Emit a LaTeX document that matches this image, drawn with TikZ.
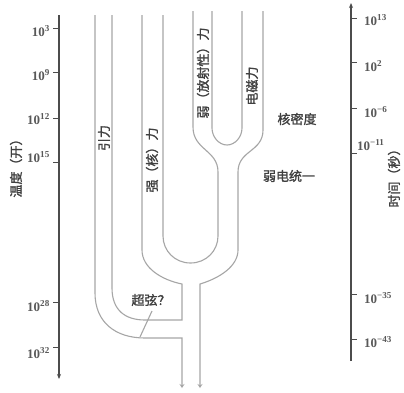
\documentclass[tikz,border=0pt]{standalone}
\usepackage{fontspec}
\setmainfont{Liberation Serif}
\newfontfamily\cjk[FakeBold=1.5]{Noto Sans CJK SC}
\usetikzlibrary{arrows.meta}
\begin{document}
\begin{tikzpicture}[x=1pt,y=-1pt,
  tube/.style={draw=black!35,line width=1.1pt},
  axisline/.style={draw=black!70,line width=1.2pt},
  tubearrow/.style={-{Stealth[length=4pt,width=5pt]}},
  cn/.style={font=\cjk\fontsize{13}{13}\selectfont,text=black!75,inner sep=0pt},
  vcn/.style={cn,rotate=90},
  numl/.style={font=\rmfamily\bfseries\fontsize{13}{13}\selectfont,text=black!65,inner sep=0pt,anchor=east},
  numr/.style={font=\rmfamily\bfseries\fontsize{13}{13}\selectfont,text=black!65,inner sep=0pt,anchor=west}]
\useasboundingbox (0,0) rectangle (404,392);
\fill[white] (0,0) rectangle (404,392);

% axes
\draw[axisline,-{Stealth[length=5pt,width=4pt]}] (59,15) -- (59,379);
\draw[axisline,-{Stealth[length=5pt,width=4pt]}] (351,361) -- (351,3);
\foreach \y in {28,72,118,162,302,347} \draw[axisline,line width=1pt] (53,\y) -- (59,\y);
\foreach \y in {18,62,108,153,294,339} \draw[axisline,line width=1pt] (351,\y) -- (357,\y);

% left labels
\node[numl] (t1) at (50,31) {10\textsuperscript{3}};
\node[numl] (t2) at (50,75) {10\textsuperscript{9}};
\node[numl] (t3) at (50,119) {10\textsuperscript{12}};
\node[numl] (t4) at (50,157) {10\textsuperscript{15}};
\node[numl] (t5) at (50,306) {10\textsuperscript{28}};
\node[numl] (t6) at (50,353) {10\textsuperscript{32}};
% right labels
\node[numr] (s1) at (364,20) {10\textsuperscript{13}};
\node[numr] (s2) at (364,66) {10\textsuperscript{2}};
\node[numr] (s3) at (364,112) {10\textsuperscript{−6}};
\node[numr] (s4) at (357,145) {10\textsuperscript{−11}};
\node[numr] (s5) at (364,298) {10\textsuperscript{−35}};
\node[numr] (s6) at (364,342) {10\textsuperscript{−43}};

\node[vcn] (temp) at (16,165) {温度（开）};
\node[vcn] (time) at (394,175) {时间（秒）};

% tubes
\draw[tube,tubearrow] (95,15) -- (95,293) .. controls (95,322) and (115,338) .. (145,338) -- (182,338) -- (182,388);
\draw[tube] (112,15) -- (112,288) .. controls (112,310) and (125,320) .. (145,320) -- (182,320) -- (182,284)
  .. controls (162,280) and (142,268) .. (142,250) -- (142,15);
\draw[tube] (163,15) -- (163,236) .. controls (163,251) and (175,263) .. (190.5,263)
  .. controls (206,263) and (218,251) .. (218,236) -- (218,172) .. controls (218,150) and (193,150) .. (193,127) -- (193,11);
\draw[tube] (212,11) -- (212,128) .. controls (212,137) and (219,145) .. (227,145)
  .. controls (235,145) and (242,137) .. (242,128) -- (242,11);
\draw[tube,tubearrow] (263,11) -- (263,130) .. controls (263,152) and (238,150) .. (238,172) -- (238,250)
  .. controls (238,266) and (220,278) .. (200,284) -- (200,388);

% labels
\node[vcn] (grav) at (104,138) {引力};
\node[vcn] (strong) at (152,160) {强（核）力};
\node[vcn] (weak) at (203,73) {弱（放射性）力};
\node[vcn] (em) at (252,86) {电磁力};
\node[cn] (nuc) at (297,119) {核密度};
\node[cn] (ew) at (289,176) {弱电统一};
\node[cn] (ss) at (151,300) {超弦？};
\coordinate (sstip) at (140,337);
\draw[tube] (152,311) -- (sstip);
\end{tikzpicture}
\end{document}
